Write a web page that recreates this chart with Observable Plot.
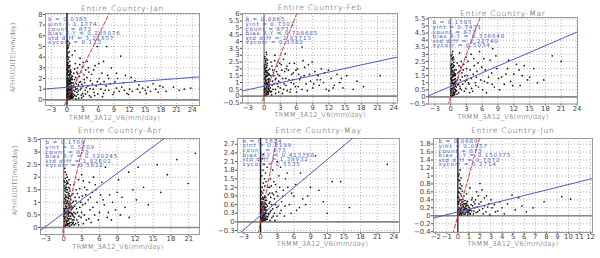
<!DOCTYPE html>
<html><head><meta charset="utf-8">
<script src="https://cdn.jsdelivr.net/npm/d3@7"></script>
<script src="https://cdn.jsdelivr.net/npm/@observablehq/plot@0.6"></script>
<style>
html,body{margin:0;padding:0;background:#fff;}
#root{position:relative;width:600px;height:258px;overflow:hidden;background:#fff;}
#root svg{position:absolute;overflow:visible;}
</style></head><body><div id="root"></div>
<script>
// ---------- data ----------
const titles = ["Entire Country-Jan","Entire Country-Feb","Entire Country-Mar","Entire Country-Apr","Entire Country-May","Entire Country-Jun"];
const xLabel = "TRMM_3A12_V6(mm/day)";
const yLabel = "APHRODITE(mm/day)";
const slopeB = [0.0385, 0.0865, 0.1595, 0.1760, 0.1624, 0.0689];
const yInt   = [1.1774, 0.7302, 0.7431, 0.5709, 0.2199, 0.0957];
const counts = [873, 873, 873, 873, 873, 873];
const biasXY = ["0.205076","0.708685","0.336648","0.320245","0.413768","0.150375"];
const stdDiff = ["3.21857","2.83713","2.22740","1.82602","1.38932","0.7372"];
const xyCorr = ["0.113","0.3382","0.5034","0.5822","0.5535","0.2714"];

const xTicksAll = [
  [-3,0,3,6,9,12,15,18,21,24],
  [-3,0,3,6,9,12,15,18,21,24],
  [-3,0,3,6,9,12,15,18,21,24],
  [-3,0,3,6,9,12,15,18,21],
  [-3,0,3,6,9,12,15,18,21,24],
  [-2,-1,0,1,2,3,4,5,6,7,8,9,10,11,12]
];
const yTicksAll = [
  [0,1,2,3,4,5,6,7,8],
  [-0.5,0,0.5,1,1.5,2,2.5,3,3.5,4,4.5,5,5.5,6],
  [-0.5,0,0.5,1,1.5,2,2.5,3,3.5,4,4.5,5,5.5],
  [0,0.5,1,1.5,2,2.5,3,3.5],
  [-0.3,0,0.3,0.6,0.9,1.2,1.5,1.8,2.1,2.4,2.7],
  [-0.4,-0.2,0,0.2,0.4,0.6,0.8,1,1.2,1.4,1.6,1.8]
];
const xDomains = [[-4.12,25.4],[-4,24.7],[-4.2,24.1],[-3.9,22.8],[-4.14,25],[-2.2,12.18]];
const yDomains = [[-0.53,8.09],[-0.5,6.05],[-0.5,5.6],[-0.28,3.54],[-0.37,2.9],[-0.42,1.94]];

// scatter points (x,y pairs)
const janPts = [0.05,0.1,0.1,0.3,0.2,0.5,0.15,0.8,0.3,0.2,0.4,0.6,0.5,0.4,0.6,0.9,0.7,0.3,0.8,0.7,0.9,0.5,0.25,1.1,0.35,1.4,0.45,1.7,0.1,2.0,0.2,2.3,0.3,2.6,0.15,2.9,0.4,3.2,0.1,3.5,0.25,3.8,0.05,4.1,0.2,4.4,0.1,4.8,0.3,5.1,0.15,5.5,0.55,1.2,0.65,1.5,0.75,1.9,0.85,1.1,0.95,1.6,0.5,2.1,0.6,2.5,0.7,2.8,0.35,3.0,0.45,2.4,0.05,1.3,0.1,1.6,0.2,1.9,0.3,0.9,0.4,0.1,0.6,0.15,0.8,0.2,1.0,0.4,0.9,1.3,0.15,0.05,0.5,0.7,0.7,1.0,0.25,2.7,0.05,3.3,0.35,4.0,0.5,3.6,0.1,0.6,0.3,1.8,0.45,0.35,0.65,0.55,0.85,0.9,0.95,2.2,0.05,2.5,0.4,1.0,
1.1,0.6,1.3,0.9,1.5,0.4,1.7,1.0,1.2,1.6,1.9,0.7,0.6,3.2,0.8,2.6,0.2,3.1,0.45,4.5,0.65,2.0,0.15,1.5,0.75,0.45,0.35,0.65,0.55,1.85,0.95,0.15,1.0,1.9,0.25,4.9,0.5,5.3,0.05,0.8,
0.02,0.45,0.12,0.95,0.22,1.25,0.32,1.55,0.42,1.85,0.52,2.25,0.62,2.65,0.72,0.15,0.82,0.55,0.92,0.85,0.08,1.75,0.18,2.05,0.28,2.35,0.38,2.75,0.48,3.05,0.58,0.3,0.68,0.65,0.78,1.25,0.88,1.55,0.98,1.05,0.04,2.85,0.14,3.25,0.24,3.45,0.34,1.15,0.44,1.45,0.54,0.85,0.64,1.75,0.74,2.35,0.84,0.35,0.94,0.75,0.06,0.25,0.16,0.55,0.26,0.35,0.36,0.15,0.46,0.95,0.56,1.55,0.66,1.25,0.76,1.65,0.86,2.05,0.96,0.25,
1.2,0.3,1.5,0.8,1.8,1.5,2.1,0.5,2.4,2.2,2.7,1.1,3.0,0.6,3.3,1.9,3.6,2.8,4.0,1.3,4.3,0.4,4.7,2.4,5.0,1.0,5.4,3.2,5.8,1.7,1.3,2.5,1.6,3.4,2.0,3.0,2.5,3.9,3.1,3.5,1.1,1.2,1.4,1.9,1.9,2.6,2.2,1.4,2.8,0.2,3.5,0.9,4.1,3.0,4.5,1.8,5.2,0.7,1.7,0.1,2.6,1.7,3.8,2.1,1.0,4.2,1.5,4.6,6.2,2.0,
1.05,2.2,1.15,0.2,1.25,1.35,1.35,0.5,1.45,2.9,1.55,1.15,1.65,2.1,1.75,0.35,1.85,1.85,1.95,1.05,2.05,2.45,2.15,0.85,2.25,0.15,2.35,1.65,2.45,3.3,2.55,0.95,2.65,2.6,2.75,0.45,2.85,1.45,2.95,3.1,3.05,1.25,3.15,0.35,3.25,2.35,3.4,1.6,3.55,0.55,3.7,1.15,3.85,3.6,3.95,0.75,4.2,2.6,4.4,1.05,4.6,0.25,4.85,1.5,5.1,2.8,5.3,0.4,5.6,1.3,5.9,0.55,6.1,3.4,6.4,1.5,6.7,2.5,7.1,1.7,7.3,0.9,7.8,2.3,8.3,1.5,8.8,0.5,9.7,2.0,10.8,1.6,11.8,0.5,13.8,1.4,15.2,0.6,17.8,1.3,
6.5,1.0,7.0,0.6,7.5,1.3,8.0,0.9,8.5,3.0,9.0,0.7,9.5,1.1,10.0,0.8,10.5,1.2,11.0,0.9,11.5,0.6,12.0,1.0,12.5,0.8,13.0,1.8,13.5,1.0,14.0,0.7,14.5,1.1,15.0,0.9,15.5,1.2,16.0,0.8,16.5,1.5,17.0,1.0,17.5,0.7,18.4,1.2,19.0,0.8,20.4,1.2,21.5,0.9,22.5,1.0,23.7,1.1,5.8,5.0,7.6,5.0,10.3,4.1,11.2,2.3,7.0,3.6,9.5,2.5,8.0,2.0,6.8,0.3,9.2,1.7,12.3,2.1];
const febPts = [0.05,0.1,0.1,0.3,0.2,0.5,0.15,0.8,0.3,0.2,0.4,0.6,0.5,0.4,0.6,0.9,0.7,0.3,0.8,0.7,0.9,0.5,0.25,1.1,0.35,1.4,0.45,1.7,0.1,2.0,0.2,2.3,0.3,2.6,0.15,2.9,0.4,3.2,0.1,2.75,0.55,1.2,0.65,1.5,0.75,1.9,0.85,1.1,0.95,1.6,0.5,2.1,0.6,2.4,0.05,1.3,0.1,1.6,0.2,1.9,0.3,0.9,0.4,0.1,0.6,0.15,0.8,0.2,1.0,0.4,0.9,1.3,0.15,0.05,0.5,0.7,0.7,1.0,0.25,2.5,0.1,0.6,0.3,1.8,0.45,0.35,0.65,0.55,0.85,0.9,0.05,2.2,0.4,1.0,0.35,2.1,0.2,1.4,0.55,0.25,
0.02,0.45,0.12,0.95,0.22,1.25,0.32,1.55,0.42,1.85,0.52,2.25,0.62,2.65,0.72,0.15,0.82,0.55,0.92,0.85,0.08,1.75,0.18,2.05,0.28,2.35,0.38,2.75,0.48,3.05,0.58,0.3,0.68,0.65,0.78,1.25,0.88,1.55,0.98,1.05,0.34,1.15,0.44,1.45,0.54,0.85,0.64,1.75,0.84,0.35,0.94,0.75,0.06,0.25,0.16,0.55,0.26,0.35,0.46,0.95,0.56,1.55,0.76,1.65,
1.05,2.0,1.15,0.6,1.25,1.5,1.35,0.35,1.45,2.2,1.55,1.1,1.65,0.5,1.75,1.7,1.85,0.9,1.95,2.6,2.05,1.2,2.15,0.2,2.3,1.8,2.45,0.9,2.55,2.5,2.7,0.3,2.85,1.5,3.05,1.0,3.2,2.3,3.45,1.3,3.6,0.5,3.8,1.8,4.05,0.8,4.25,2.2,4.6,1.2,4.8,0.3,5.1,1.6,5.5,0.9,5.9,1.9,6.3,0.7,6.8,1.4,7.5,2.1,8.4,1.6,9.2,0.9,10.4,1.2,11.2,1.7,12.8,0.6,14.3,1.3,
1.2,0.3,1.5,0.8,1.8,1.5,2.1,0.5,2.4,2.2,2.7,1.1,3.0,0.6,3.3,1.9,3.6,2.7,4.0,1.3,4.3,0.4,4.7,2.4,5.0,1.0,5.4,1.7,5.8,0.7,6.2,2.0,6.6,1.2,7.0,0.5,7.4,1.5,7.8,0.9,8.2,2.3,8.6,1.1,9.0,0.6,9.4,1.8,9.8,1.2,10.2,0.8,10.6,2.0,11.0,1.0,11.5,0.5,11.9,1.9,12.4,1.3,13,0.8,13.5,1.6,14,1.0,14.6,0.6,15.3,1.5,16.5,0.5,17.2,1.1,18.4,0.7,21.5,1.5,3.9,3.1,7.0,3.6,8.9,2.5,1.3,2.5,2.0,3.0,2.5,1.6,3.4,0.2,4.5,1.9,5.6,2.4,6.0,0.3,7.2,2.6,1.1,1.2,1.6,1.9,2.2,1.3,2.9,2.4,3.7,0.9,4.9,0.5,5.3,1.2,6.4,1.6,8.0,0.4,10.0,1.5,12.0,0.4,1.4,0.1,2.6,0.7,4.1,2.0];
const marPts = [0.05,0.1,0.1,0.35,0.2,0.55,0.15,0.8,0.3,0.2,0.4,0.6,0.5,0.45,0.6,0.9,0.7,0.3,0.8,0.75,0.9,0.5,0.25,1.1,0.35,1.4,0.45,1.7,0.1,2.0,0.2,2.3,0.3,2.6,0.15,2.9,0.4,3.2,0.55,1.2,0.65,1.5,0.75,1.9,0.85,1.1,0.95,1.6,0.5,2.1,0.6,2.45,0.05,1.3,0.1,1.6,0.2,1.9,0.3,0.95,0.4,0.1,0.6,0.15,0.8,0.2,1.0,0.4,0.9,1.3,0.15,0.05,0.5,0.7,0.7,1.0,0.25,2.7,0.1,0.6,0.3,1.8,0.45,0.35,0.65,0.55,0.85,0.95,0.05,2.2,0.4,1.0,0.35,2.1,0.2,1.4,0.55,0.25,0.7,2.2,1.1,0.7,1.3,1.2,1.2,0.2,1.5,0.9,1.4,1.7,0.3,3.0,0.5,2.8,0.8,1.5,1.0,1.1,0.15,1.2,
0.02,0.45,0.12,0.95,0.22,1.25,0.32,1.55,0.42,1.85,0.52,2.25,0.62,2.65,0.72,0.15,0.82,0.55,0.92,0.85,0.08,1.75,0.18,2.05,0.28,2.35,0.38,2.75,0.58,0.3,0.68,0.65,0.78,1.25,0.88,1.55,0.98,1.05,0.34,1.15,0.44,1.45,0.54,0.85,0.64,1.75,0.84,0.35,0.94,0.75,0.06,0.25,0.16,0.55,0.46,0.95,0.56,1.55,0.76,1.65,
1.05,1.9,1.15,0.45,1.25,2.4,1.35,0.85,1.45,1.35,1.55,0.3,1.65,1.8,1.75,0.75,1.85,1.2,1.95,2.1,2.05,0.5,2.15,1.7,2.3,0.9,2.5,2.3,2.7,1.5,2.9,0.6,3.1,1.2,3.3,2.5,3.5,0.9,3.7,1.9,3.95,1.3,4.2,0.4,4.4,2.7,4.7,1.0,5.0,1.8,5.3,0.7,5.9,2.1,6.4,1.1,7.2,1.4,7.9,0.9,8.8,2.0,10.5,1.6,11.8,0.8,13.0,1.9,15.0,1.4,
1.8,0.6,2.2,1.4,2.6,0.4,3.0,2.0,3.4,1.0,3.9,3.0,4.3,1.6,4.8,0.8,5.2,2.4,5.7,1.2,6.1,0.5,6.6,1.9,7.0,1.0,7.5,2.6,7.8,1.7,8.3,0.7,8.6,2.9,9.1,1.3,9.7,1.4,10.2,0.9,10.8,2.0,11.4,1.1,12.0,1.6,12.5,2.3,13.2,0.8,14.0,2.2,14.6,1.2,15.8,2.0,16.5,1.0,17.7,1.2,19.3,2.9,21.0,2.5,2.0,2.5,2.9,2.8,3.6,0.3,4.5,2.2,5.5,3.2,6.3,2.7,1.6,2.2,2.4,1.9,3.2,1.5,4.0,0.6,4.9,1.4,6.8,0.3,9.3,0.5,11.0,2.6,13.6,1.5,1.7,3.1,2.8,1.1,8.0,3.4];
const aprPts = [0.05,0.05,0.15,0.15,0.25,0.1,0.35,0.3,0.45,0.2,0.55,0.4,0.65,0.25,0.75,0.5,0.85,0.15,0.95,0.35,1.05,0.2,1.15,0.45,1.3,0.1,1.45,0.3,1.6,0.2,1.8,0.4,2.0,0.15,2.2,0.3,2.5,0.1,
0.1,0.55,0.2,0.7,0.3,0.85,0.4,0.6,0.5,0.95,0.6,0.75,0.7,1.05,0.8,0.65,0.9,0.9,1.0,0.6,1.1,0.8,1.25,0.7,1.4,0.55,1.55,0.8,1.7,0.6,
0.05,1.0,0.15,1.15,0.25,1.3,0.35,1.1,0.45,1.4,0.55,1.2,0.65,1.5,0.75,1.3,0.85,1.6,0.95,1.25,1.05,1.45,1.2,1.1,1.35,1.3,
0.1,1.65,0.2,1.8,0.3,1.95,0.4,1.7,0.5,1.85,0.6,2.0,0.7,1.75,0.9,1.9,1.1,1.7,0.25,2.2,0.45,2.1,0.15,2.35,
0.2,0.4,0.4,0.45,0.6,0.55,0.8,0.3,1.0,0.05,0.3,0.05,0.5,0.1,0.7,0.08,0.9,0.6,0.1,0.25,1.2,0.95,1.5,1.0,0.35,0.75,0.55,0.65,0.75,0.85,0.95,0.8,0.2,1.45,0.4,1.25,0.6,1.05,0.8,1.15,1.0,1.0,0.3,1.55,0.5,1.6,0.7,1.4,
0.02,0.45,0.12,0.65,0.22,0.95,0.32,1.2,0.42,1.5,0.52,1.75,0.62,0.12,0.72,0.35,0.82,0.55,0.92,0.75,1.02,0.9,1.12,1.15,1.22,0.35,1.32,0.55,1.42,0.75,1.52,0.15,1.62,0.45,1.72,0.3,0.08,1.85,0.18,1.55,0.28,1.05,0.38,0.85,0.48,0.25,0.58,0.15,0.68,0.65,0.78,0.95,0.88,1.35,0.98,1.55,1.08,1.25,1.18,0.6,1.28,0.85,1.38,0.2,1.48,0.5,0.05,0.75,0.15,0.35,0.25,0.55,0.35,1.6,0.45,0.8,0.55,1.0,0.65,1.8,0.75,1.2,0.85,0.45,0.95,0.15,
1.55,1.35,1.65,1.05,1.75,0.1,1.85,0.85,1.95,0.55,2.05,1.05,2.15,0.75,2.3,1.35,2.4,0.2,2.55,0.45,2.7,1.55,2.85,1.0,3.0,0.6,3.15,1.25,3.3,1.85,3.45,0.5,3.6,0.95,3.9,1.5,4.2,0.35,4.5,1.2,4.9,0.8,5.3,1.7,5.8,0.3,6.6,1.1,7.5,0.6,9.0,1.4,
2.3,0.6,2.6,1.2,2.9,0.4,3.2,0.9,3.5,1.6,3.8,0.3,4.1,1.1,4.4,0.7,4.8,1.4,5.2,0.5,5.6,1.0,6.0,0.6,6.4,1.8,6.8,0.9,7.3,0.4,7.7,1.3,8.2,1.0,8.7,0.7,9.2,1.9,9.8,1.2,10.3,0.8,10.9,2.2,11.6,1.5,12.2,1.1,12.5,2.4,13.4,1.6,14.2,0.9,15.7,2.5,16.3,1.4,17.4,2.1,19.0,2.7,20.9,1.75,22.1,2.95,2.1,1.5,2.5,1.9,3.0,2.1,3.3,0.15,3.7,1.3,4.3,1.8,5.0,2.0,5.4,1.5,6.2,1.3,7.0,2.4,8.0,0.3,9.5,0.5,11.0,0.4,2.7,0.8,1.9,1.2,1.7,1.7,4.6,0.2];
const mayPts = [0.05,0.02,0.15,0.08,0.25,0.05,0.35,0.12,0.45,0.07,0.55,0.15,0.65,0.1,0.75,0.2,0.85,0.06,0.95,0.14,1.1,0.09,1.3,0.18,
0.1,0.22,0.2,0.28,0.3,0.35,0.4,0.25,0.5,0.4,0.6,0.3,0.7,0.45,0.8,0.32,0.9,0.5,1.0,0.38,1.2,0.42,
0.05,0.5,0.15,0.6,0.25,0.55,0.35,0.7,0.45,0.62,0.55,0.8,0.65,0.68,0.75,0.9,0.85,0.75,
0.1,0.95,0.2,1.05,0.3,1.2,0.4,1.0,0.5,1.35,0.6,1.1,0.7,1.5,0.8,1.25,0.9,1.7,0.25,1.6,0.45,1.8,0.65,2.0,0.35,2.2,0.55,2.35,1.0,1.4,1.2,1.9,
0.2,0.15,0.4,0.18,0.6,0.05,0.8,0.12,0.3,0.45,0.5,0.55,0.7,0.25,0.1,0.4,1.05,0.6,0.95,0.85,
0.02,0.3,0.12,0.35,0.22,0.42,0.32,0.2,0.42,0.5,0.52,0.22,0.62,0.48,0.72,0.6,0.82,0.4,0.92,0.28,1.02,0.2,1.12,0.3,1.22,0.1,0.08,0.7,0.18,0.8,0.28,0.65,0.38,0.85,0.48,0.78,0.58,0.6,0.68,0.85,0.78,0.52,0.88,0.65,0.98,0.5,1.08,0.75,0.15,0.12,0.35,0.03,0.55,0.32,0.75,0.06,0.95,0.42,
1.25,0.55,1.35,1.2,1.45,0.25,1.55,0.65,1.65,1.0,1.75,0.35,1.85,0.85,1.95,1.25,2.05,0.15,2.2,0.45,2.35,0.95,2.5,0.3,2.65,0.6,2.8,1.05,3.0,0.2,3.2,0.55,3.45,1.2,3.7,0.4,4.0,0.9,4.4,0.55,4.9,1.2,5.5,0.3,6.3,1.3,7.0,0.5,8.5,0.9,
1.5,0.3,1.7,0.7,1.9,0.4,2.1,1.0,2.3,0.2,2.5,0.8,2.7,1.3,2.9,0.5,3.1,0.9,3.3,1.6,3.5,0.3,3.8,0.7,4.1,1.1,4.5,1.5,4.8,1.7,5.2,0.6,5.6,1.0,6.0,0.9,6.5,0.4,7.2,1.7,7.6,0.8,8.1,0.6,9.0,1.2,9.9,2.3,10.5,1.1,11.3,0.7,12.9,1.4,14.4,1.4,22.8,2.0,1.6,1.2,1.8,1.5,2.2,1.8,2.6,0.05,3.0,2.1,3.6,1.9,4.3,0.2,1.4,0.95,1.7,0.05,2.0,0.6,2.4,1.4,12.0,0.3,16.0,0.5];
const junPts = [0.02,0.02,0.08,0.06,0.15,0.03,0.22,0.09,0.3,0.05,0.38,0.12,0.45,0.07,0.55,0.1,0.65,0.04,0.75,0.13,0.85,0.08,0.95,0.15,1.1,0.06,1.25,0.12,1.4,0.05,
0.05,0.15,0.12,0.2,0.2,0.18,0.28,0.25,0.35,0.2,0.42,0.28,0.5,0.22,0.6,0.3,0.7,0.24,0.8,0.32,0.9,0.26,1.05,0.2,1.2,0.28,
0.05,0.35,0.1,0.45,0.18,0.4,0.25,0.55,0.32,0.5,0.4,0.62,0.15,0.7,0.22,0.8,0.08,0.9,0.3,0.95,0.12,1.05,0.2,1.15,0.35,0.75,0.45,0.42,0.55,0.5,0.65,0.38,0.05,0.6,
0.1,0.1,0.18,0.12,0.26,0.14,0.34,0.02,0.5,0.16,0.7,0.18,0.9,0.02,1.0,0.1,
0.04,0.1,0.1,0.04,0.16,0.16,0.24,0.06,0.32,0.18,0.4,0.08,0.48,0.24,0.56,0.04,0.64,0.2,0.72,0.08,0.8,0.18,0.88,0.12,0.96,0.22,1.04,0.14,1.12,0.04,0.06,0.3,0.14,0.36,0.22,0.3,0.3,0.4,0.38,0.34,0.46,0.36,0.54,0.3,0.62,0.16,0.7,0.3,0.78,0.26,0.86,0.36,0.94,0.08,0.03,0.48,0.11,0.58,0.27,0.68,0.17,0.88,0.07,1.0,
1.15,0.15,1.25,0.4,1.35,0.25,1.45,0.12,1.55,0.3,1.65,0.08,1.75,0.22,1.85,0.5,1.95,0.14,2.1,0.35,2.25,0.18,2.4,0.45,2.55,0.1,2.7,0.22,3.0,0.4,3.3,0.28,3.6,0.12,4.0,0.2,4.5,0.3,5.8,0.25,6.8,0.2,
1.5,0.2,1.6,0.4,1.8,0.1,2.0,0.81,2.2,0.65,2.4,0.25,2.6,0.5,2.9,0.02,3.1,0.2,3.4,0.1,3.8,0.35,4.2,0.05,4.9,0.52,5.2,0.15,5.5,0.45,6.2,0.1,7.8,0.35,9.4,0.48,10.2,0.42,1.3,0.45,1.7,0.6,0.8,0.55,1.1,0.7,1.9,0.3,2.3,0.05,2.8,0.3,1.45,0.35];
const pointSets = [janPts, febPts, marPts, aprPts, mayPts, junPts];

// ---------- layout ----------
const boxes  = [[0,0,200,125],[200,0,200,125],[400,0,200,125],[0,125,200,133],[200,125,200,133],[400,125,200,133]];
const frames = [[45,199,13,105],[242,397,13,102.5],[428,577,17,103.5],[40,199,138,234],[237,399,138,232],[433,592,138,232]];
const titleDy = [-5,-5.5,-4,-8,-8,-8];
const xlabDy = [12,12,12.5,12.5,11.5,11.5];
const xlabDx = [-8,0,0,-2,4,0];
const statDx = [2.5,3,4,5,5,5];
const statDy = [4.5,4.5,3.5,2.5,1,1.5];
const zeroXColor = ["#111","#888","#999","#888","#111","#333"];
const BLUE = "#4a5cc8";
const fmt = d => (d < 0 ? "\u2212" : "") + Math.abs(d);

const root = document.getElementById("root");
for (let i = 0; i < 6; i++) {
  const [ox, oy, W, H] = boxes[i];
  const [fl, fr, ft, fb] = frames[i];
  const pts = pointSets[i];
  const dots = [];
  for (let k = 0; k < pts.length; k += 2) dots.push({x: pts[k], y: pts[k + 1]});
  const xd = xDomains[i];
  const ref = xd.map(v => ({x: v, y: v}));
  const reg = xd.map(v => ({x: v, y: yInt[i] + slopeB[i] * v}));
  const stats = [
    "b = " + slopeB[i].toFixed(4),
    "yint = " + yInt[i].toFixed(4),
    "count = " + counts[i],
    "bias X-Y = " + biasXY[i],
    "std diff = " + stdDiff[i],
    "xycorr = " + xyCorr[i]
  ].join("\n");
  const marks = [
    Plot.gridX(xTicksAll[i], {stroke: "#777", strokeOpacity: 0.55, strokeDasharray: "1,2"}),
    Plot.gridY(yTicksAll[i], {stroke: "#777", strokeOpacity: 0.55, strokeDasharray: "1,2"}),
    Plot.frame({stroke: "#999"}),
    Plot.ruleY([0], {stroke: "#888", strokeWidth: 1.6}),
    Plot.ruleX([0], {stroke: zeroXColor[i], strokeWidth: 1.4}),
    Plot.dot(dots, {x: "x", y: "y", r: 0.85, fill: "#111", stroke: null}),
    Plot.line(ref, {x: "x", y: "y", stroke: "#e8393a", strokeWidth: 1, strokeDasharray: "4,2", clip: true}),
    Plot.line(reg, {x: "x", y: "y", stroke: BLUE, strokeWidth: 1, clip: true}),
    Plot.text([stats], {frameAnchor: "top-left", dx: statDx[i], dy: statDy[i], lineAnchor: "top", textAnchor: "start", fill: BLUE, fontSize: 5.5, lineHeight: 0.84}),
    Plot.text([titles[i]], {frameAnchor: "top", dy: titleDy[i], lineAnchor: "middle", fill: "#333", fontSize: 7.5, fontWeight: 300}),
    Plot.text([xLabel], {frameAnchor: "bottom", dx: xlabDx[i], dy: xlabDy[i], lineAnchor: "middle", fill: "#333", fontSize: 6.8, fontWeight: 300})
  ];
  if (i === 0 || i === 3) {
    marks.push(Plot.text([yLabel], {frameAnchor: "left", dx: i === 0 ? -33 : -26, dy: i === 0 ? -2 : -6, rotate: -90, textAnchor: "middle", lineAnchor: "middle", fill: "#333", fontSize: 6.5, fontWeight: 300}));
  }
  const svg = Plot.plot({
    width: W, height: H,
    marginLeft: fl - ox, marginRight: ox + W - fr, marginTop: ft - oy, marginBottom: oy + H - fb,
    x: {domain: xd, ticks: xTicksAll[i], tickFormat: fmt, tickSize: 2, tickPadding: 0, label: null},
    y: {domain: yDomains[i], ticks: yTicksAll[i], tickFormat: fmt, tickSize: 2, tickPadding: 1, label: null},
    style: {fontFamily: "DejaVu Sans, sans-serif", fontSize: "6.8px", color: "#444", background: "transparent", overflow: "visible"},
    marks
  });
  svg.style.left = ox + "px";
  svg.style.top = oy + "px";
  const textGroups = svg.querySelectorAll('g[aria-label="text"]');
  if (textGroups[0]) textGroups[0].style.letterSpacing = "0.9px";
  if (textGroups[1]) textGroups[1].style.letterSpacing = "0.8px";
  if (textGroups[2]) textGroups[2].style.letterSpacing = "0.2px";
  root.appendChild(svg);
}
</script>
</body></html>
